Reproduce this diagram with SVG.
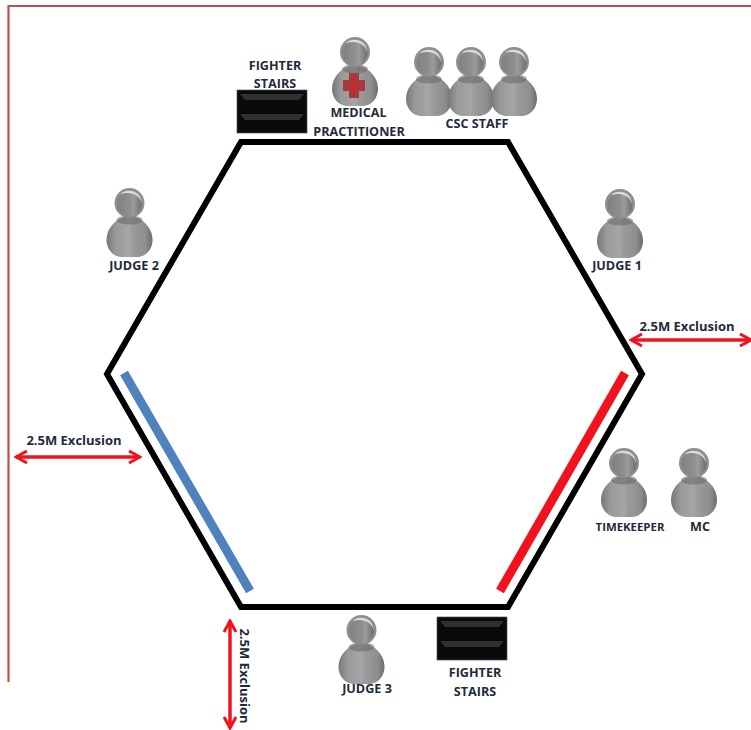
<svg xmlns="http://www.w3.org/2000/svg" width="751" height="730" viewBox="0 0 751 730">
<style>
.t{font-family:"Open Sans","Liberation Sans",sans-serif;font-weight:700;font-size:12.6px;fill:#1f2a3d;text-anchor:middle}
.e{font-size:13px}
.x{stroke:#f0131e;stroke-width:3.500;fill:none;marker-start:url(#ah);marker-end:url(#ah)}
</style>
<defs>
<linearGradient id="g" x1="0" x2="1" y1="0" y2="0"><stop offset="0" stop-color="#787878"/><stop offset=".2" stop-color="#999"/><stop offset=".5" stop-color="#a6a6a6"/><stop offset=".56" stop-color="#9c9c9c"/><stop offset=".85" stop-color="#8e8e8e"/><stop offset="1" stop-color="#6c6c6c"/></linearGradient>
<linearGradient id="h" x1="0" x2="1" y1="0" y2="0"><stop offset="0" stop-color="#808080"/><stop offset=".5" stop-color="#8f8f8f"/><stop offset=".65" stop-color="#9c9c9c"/><stop offset="1" stop-color="#6e6e6e"/></linearGradient>
<marker id="ah" viewBox="0 0 15 15" refX="13" refY="7.500" markerWidth="15" markerHeight="15" markerUnits="userSpaceOnUse" orient="auto-start-reverse"><path d="M2 1.500 L13 7.500 L2 13.500" fill="none" stroke="#f0131e" stroke-width="3"/></marker>
<g id="person">
<path d="M0 -3 C-10 -3 -23 7 -23 21 C-23 30 -17 37 -9 38 H9 C17 37 23 30 23 21 C23 7 10 -3 0 -3Z" fill="url(#g)"/>
<ellipse cx="0" cy="1" rx="13" ry="4.500" fill="#666" opacity=".55"/>
<circle cx="0" cy="-16" r="15" fill="#8f8f8f"/>
<circle cx="0" cy="-15" r="12.500" fill="url(#h)"/>
<path d="M-9 -25 C-4 -30 6 -29 10 -23 C11 -21 12 -18 12 -16 C10 -24 2 -28 -9 -25Z" fill="#dcdcdc"/>
</g>
<g id="stairs">
<rect x="0" y="0" width="70" height="43" fill="#0a0a0a" stroke="#555" stroke-width=".7"/>
<path d="M3 4 H67 L62 10 H8Z M3 24 H67 L62 30 H8Z" fill="#303030"/>
</g>
</defs>
<path d="M8.500 682 V6 H751" fill="none" stroke="#c0504d" stroke-width="2.200"/>
<g id="connectors">
<path id="ring" d="M241 142 H508 L642 374 L508 607 H241 L107 374 Z" fill="none" stroke="#000" stroke-width="6"/>
<line x1="124" y1="373" x2="250" y2="591" stroke="#4f81bd" stroke-width="9"/>
<line x1="625" y1="373" x2="500" y2="591" stroke="#f0131e" stroke-width="9"/>
<line class="x" x1="631" y1="340" x2="751" y2="340"/>
<line class="x" x1="16" y1="457" x2="140" y2="457"/>
<line class="x" x1="230" y1="621" x2="230" y2="728"/>
</g>
<g id="stairs-top"><use href="#stairs" x="237" y="90"/><text class="t" x="275" y="69.500">FIGHTER</text><text class="t" x="275" y="88">STAIRS</text></g>
<g id="medical"><use href="#person" x="355" y="68"/><path d="M349 73 h10 v7 h6 v11 h-6 v7 h-10 v-7 h-6 v-11 h6Z" fill="#a33c3c"/><path d="M354 75 v20 M345 85.500 h18" stroke="#f0131e" stroke-width="1.200"/><text class="t" x="358.500" y="117">MEDICAL</text><text class="t" x="359" y="136">PRACTITIONER</text></g>
<g id="csc-staff"><use href="#person" x="429" y="78"/><use href="#person" x="471" y="78"/><use href="#person" x="514" y="78"/><text class="t" x="477" y="128">CSC STAFF</text></g>
<g id="judge-1"><use href="#person" x="620" y="220"/><text class="t" x="617" y="270">JUDGE 1</text></g>
<g id="judge-2"><use href="#person" x="129.500" y="219"/><text class="t" x="134" y="270">JUDGE 2</text></g>
<g id="judge-3"><use href="#person" x="361.500" y="646"/><text class="t" x="367" y="693">JUDGE 3</text></g>
<g id="timekeeper"><use href="#person" x="624" y="479"/><text class="t" style="font-size:11.400px" x="630" y="531">TIMEKEEPER</text></g>
<g id="mc"><use href="#person" x="694" y="479"/><text class="t" x="700" y="531">MC</text></g>
<g id="stairs-bottom"><use href="#stairs" x="437" y="617"/><text class="t" x="475" y="677">FIGHTER</text><text class="t" x="475" y="696">STAIRS</text></g>
<text class="t e" x="687" y="331">2.5M Exclusion</text>
<text class="t e" x="74" y="445">2.5M Exclusion</text>
<text class="t e" transform="translate(240,676) rotate(90)" x="0" y="0">2.5M Exclusion</text>
</svg>
